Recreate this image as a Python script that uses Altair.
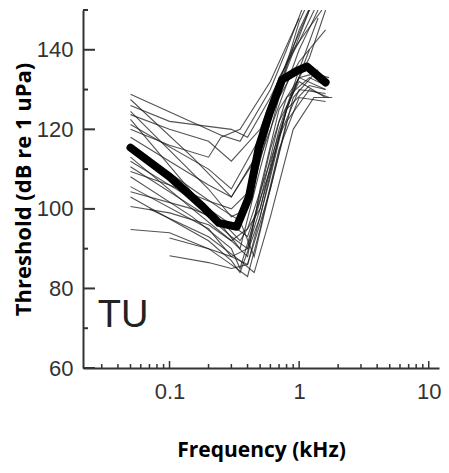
import altair as alt
import pandas as pd

# ---- individual audiograms (frequency kHz, threshold dB re 1 uPa) ----
L01 = [(0.05, 128.8), (0.25, 118.5), (0.35, 117), (0.6, 130), (0.8, 140), (1.2, 155)]
L02 = [(0.05, 127.5), (0.15, 113), (0.3, 103), (0.45, 112), (0.7, 130), (1.0, 145), (1.4, 155)]
L03 = [(0.05, 124.5), (0.2, 105), (0.3, 98), (0.4, 100), (0.6, 122), (0.8, 135), (1.2, 150)]
L04 = [(0.05, 123.7), (0.1, 120), (0.2, 117), (0.3, 112), (0.5, 120), (0.7, 133), (1.0, 142), (1.4, 152)]
L05 = [(0.05, 122.5), (0.15, 104), (0.25, 96), (0.35, 90), (0.5, 110), (0.7, 128), (1.0, 137), (1.6, 145)]
L06 = [(0.05, 121.2), (0.2, 110), (0.3, 105), (0.5, 118), (0.8, 137), (1.2, 150)]
L07 = [(0.05, 113), (0.15, 100), (0.3, 92), (0.4, 88), (0.5, 105), (0.7, 125), (1.0, 133), (1.6, 130)]
L08 = [(0.05, 110.6), (0.2, 98), (0.3, 93), (0.4, 90), (0.6, 115), (0.8, 128), (1.2, 133), (1.6, 131)]
L09 = [(0.05, 109.4), (0.1, 106), (0.2, 102), (0.3, 100), (0.4, 104), (0.6, 120), (1.0, 140), (1.4, 150)]
L10 = [(0.05, 108.1), (0.15, 98), (0.3, 90), (0.35, 85), (0.5, 102), (0.7, 122), (1.0, 132), (1.6, 128)]
L11 = [(0.05, 105.6), (0.2, 95), (0.3, 88), (0.4, 86), (0.6, 108), (0.8, 125), (1.2, 131), (1.6, 130)]
L12 = [(0.05, 104.3), (0.15, 100), (0.25, 97), (0.35, 92), (0.5, 100), (0.7, 120), (1.0, 135), (1.4, 148)]
L13 = [(0.05, 103), (0.2, 92), (0.3, 87), (0.35, 84), (0.5, 98), (0.7, 118), (1.0, 130), (1.6, 129)]
L14 = [(0.05, 100.6), (0.1, 99), (0.2, 96), (0.3, 92), (0.4, 95), (0.6, 112), (0.9, 130), (1.2, 138), (1.6, 150)]
L15 = [(0.05, 94.8), (0.1, 94), (0.2, 90), (0.3, 86), (0.4, 83), (0.5, 95), (0.7, 115), (1.0, 128), (1.6, 127)]
L16 = [(0.1, 88.2), (0.2, 86.5), (0.3, 85), (0.4, 86), (0.6, 105), (0.9, 128), (1.4, 135)]
L17 = [(0.1, 92.7), (0.2, 90), (0.3, 88), (0.4, 90), (0.5, 100), (0.8, 125), (1.2, 140)]
L18 = [(0.05, 118), (0.1, 112), (0.2, 106), (0.3, 103), (0.5, 115), (0.7, 130), (1.0, 147), (1.3, 155)]
L19 = [(0.05, 126), (0.1, 122), (0.3, 120), (0.4, 118), (0.6, 128), (0.9, 140), (1.5, 150)]
L20 = [(0.05, 116), (0.15, 105), (0.25, 100), (0.35, 97), (0.45, 88), (0.55, 100), (0.8, 122), (1.2, 130), (1.7, 128)]
L21 = [(0.07, 100), (0.2, 93), (0.35, 87), (0.45, 84), (0.6, 98), (0.9, 120), (1.3, 128), (1.8, 128)]
L22 = [(0.05, 112), (0.2, 100), (0.3, 96), (0.4, 93), (0.6, 110), (0.8, 125), (1.0, 133), (1.3, 134), (1.7, 133)]
L23 = [(0.05, 120), (0.1, 116), (0.2, 113), (0.25, 118), (0.35, 120), (0.6, 132), (1.0, 148)]

# ---- mean audiogram ----
MEAN_FREQ = [0.05, 0.1, 0.18, 0.24, 0.33, 0.41, 0.49, 0.59, 0.74, 0.95, 1.15, 1.6]
MEAN_DB = [115.4, 108.1, 100.6, 96.5, 95.5, 103, 115.7, 124, 132.5, 134.6, 135.8, 131.8]

# ---- axis ticks ----
Y_MAJOR = [60, 80, 100, 120, 140]
Y_MINOR = [70, 90, 110, 130, 150]
X_MAJOR = [0.1, 1, 10]
X_MINOR = [0.03, 0.04, 0.05, 0.06, 0.07, 0.08, 0.09,
           0.2, 0.3, 0.4, 0.5, 0.6, 0.7, 0.8, 0.9,
           2, 3, 4, 5, 6, 7, 8, 9]
X_LABELS = [0.1, 1, 10]
Y_LABELS = [60, 80, 100, 120, 140]

LABEL_TEXT = ["TU"]
LABEL_F = [0.028]
LABEL_DB = [70.3]

lines = [L01, L02, L03, L04, L05, L06, L07, L08, L09, L10, L11, L12,
         L13, L14, L15, L16, L17, L18, L19, L20, L21, L22, L23]
rows = []
for i, ln in enumerate(lines):
    for f, v in ln:
        rows.append({"id": i, "f": f, "v": v})
thin_df = pd.DataFrame(rows)
mean_df = pd.DataFrame({"f": MEAN_FREQ, "v": MEAN_DB})

W, H = 356, 358
xs = alt.Scale(type="log", domain=[0.0215, 12], nice=False)
ys = alt.Scale(domain=[60, 150], nice=False, zero=False)

x_axis = alt.Axis(values=X_LABELS, labelExpr="datum.value >= 1 ? format(datum.value, 'd') : format(datum.value, '.1f')",
                  ticks=False, tickSize=0, grid=False, labelPadding=13,
                  labelFont="Liberation Sans", labelFontSize=22, labelColor="#333",
                  domainColor="#333", domainWidth=2,
                  title="Frequency (kHz)", titleFont="Open Sans", titleFontWeight="bold",
                  titleFontSize=21, titleColor="#000", titlePadding=37)
y_axis = alt.Axis(values=Y_LABELS, ticks=False, tickSize=0, grid=False, labelPadding=10,
                  labelFont="Liberation Sans", labelFontSize=22, labelColor="#333",
                  domainColor="#333", domainWidth=2,
                  title="Threshold (dB re 1 uPa)", titleFont="Open Sans", titleFontWeight="bold",
                  titleFontSize=22, titleColor="#000", titlePadding=1)

thin = alt.Chart(thin_df).mark_line(color="#1a1a1a", strokeWidth=1.1, opacity=0.75, clip=True).encode(
    x=alt.X("f:Q", scale=xs, axis=x_axis),
    y=alt.Y("v:Q", scale=ys, axis=y_axis),
    detail="id:N",
)

mean = alt.Chart(mean_df).mark_line(color="#000", strokeWidth=8, strokeJoin="round",
                                    strokeCap="round", clip=True).encode(
    x=alt.X("f:Q", scale=xs), y=alt.Y("v:Q", scale=ys))

ymaj = alt.Chart(pd.DataFrame({"v": Y_MAJOR})).mark_rule(color="#333", strokeWidth=2).encode(
    y=alt.Y("v:Q", scale=ys), x=alt.value(0), x2=alt.value(12))
ymin = alt.Chart(pd.DataFrame({"v": Y_MINOR})).mark_rule(color="#333", strokeWidth=2).encode(
    y=alt.Y("v:Q", scale=ys), x=alt.value(0), x2=alt.value(5))
xmaj = alt.Chart(pd.DataFrame({"f": X_MAJOR})).mark_rule(color="#333", strokeWidth=1.5).encode(
    x=alt.X("f:Q", scale=xs), y=alt.value(H), y2=alt.value(H - 7))
xmin = alt.Chart(pd.DataFrame({"f": X_MINOR})).mark_rule(color="#333", strokeWidth=1.5).encode(
    x=alt.X("f:Q", scale=xs), y=alt.value(H), y2=alt.value(H - 4))

label = alt.Chart(pd.DataFrame({"t": LABEL_TEXT, "f": LABEL_F, "v": LABEL_DB})).mark_text(
    font="Liberation Sans", fontSize=38, color="#222", align="left", baseline="alphabetic").encode(
    x=alt.X("f:Q", scale=xs), y=alt.Y("v:Q", scale=ys), text="t:N")

chart = alt.layer(thin, mean, ymaj, ymin, xmaj, xmin, label).properties(
    width=W, height=H,
    background="white",
    autosize=alt.AutoSizeParams(type="none"),
    padding={"left": 75, "top": 2, "right": 2, "bottom": 97},
).configure_view(strokeWidth=0, stroke="transparent")

chart.save("out.html", embed_options={"renderer": "svg", "actions": False})
